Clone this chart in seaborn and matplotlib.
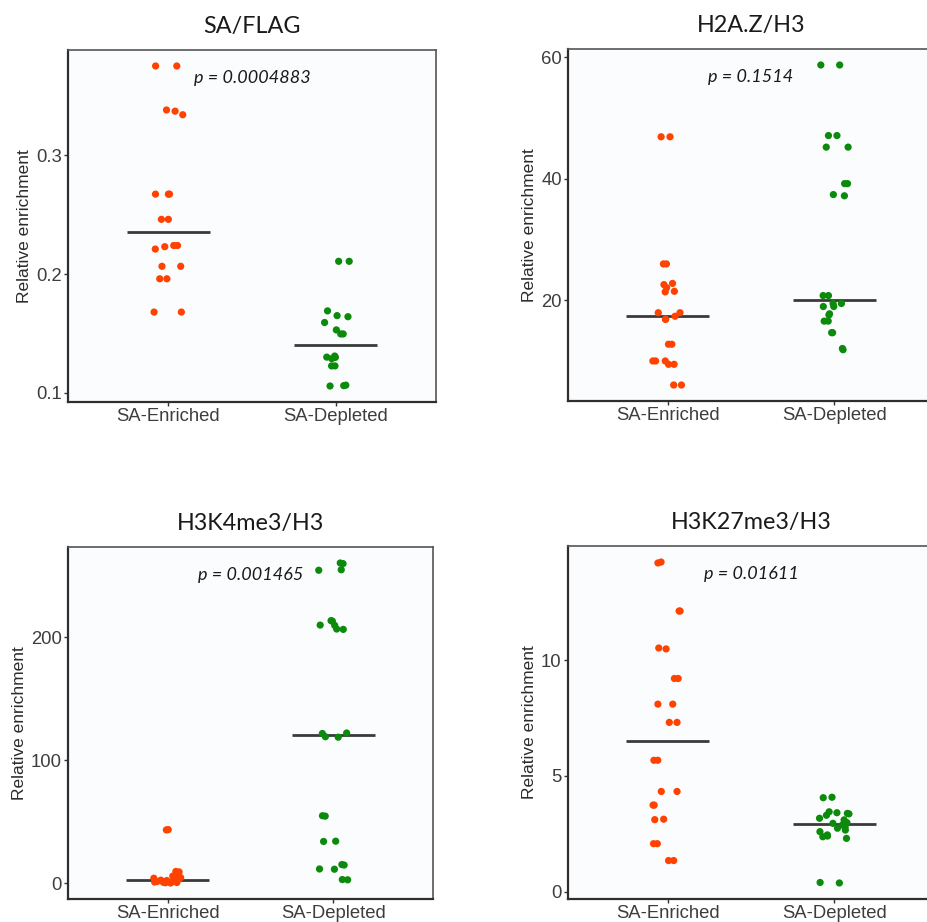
import matplotlib

matplotlib.use("Agg")
import matplotlib.pyplot as plt
import numpy as np
import pandas as pd
import seaborn as sns

# values
categories = ["SA-Enriched", "SA-Depleted"]
titles = ["SA/FLAG", "H2A.Z/H3", "H3K4me3/H3", "H3K27me3/H3"]
p_values = ["0.0004883", "0.1514", "0.001465", "0.01611"]
y_ticks = [[0.1, 0.2, 0.3], [20, 40, 60], [0, 100, 200], [0, 5, 10]]

flag_enriched = [0.375, 0.375, 0.338, 0.337, 0.334, 0.2672, 0.2672, 0.2672,
                 0.246, 0.246, 0.224, 0.224, 0.223, 0.221, 0.2065, 0.2065,
                 0.196, 0.196, 0.168, 0.168]
flag_depleted = [0.2107, 0.2107, 0.169, 0.165, 0.1641, 0.1592, 0.153, 0.1496,
                 0.1496, 0.131, 0.1301, 0.1299, 0.1288, 0.1227, 0.1227,
                 0.1065, 0.1061, 0.1058]

h2az_enriched = [46.9, 46.9, 26.0, 26.0, 22.8, 22.6, 22.1, 21.5, 21.4, 17.98,
                 17.98, 17.4, 16.9, 16.9, 12.8, 12.8, 10.05, 10.05, 10.05,
                 9.5, 9.5, 6.1, 6.1]
h2az_depleted = [58.7, 58.7, 47.1, 47.1, 45.2, 45.2, 39.2, 39.2, 37.4, 37.2,
                 20.8, 20.8, 19.5, 19.5, 19.0, 19.0, 17.8, 17.6, 16.6, 16.6,
                 14.7, 14.7, 12.1, 11.9]

h3k4_enriched = [43.6, 43.4, 9.6, 9.2, 5.8, 5.2, 4.6, 4.1, 3.6, 2.5, 2.2, 1.9,
                 1.6, 1.4, 1.2, 1.0, 0.8, 0.6, 0.4, 0.2]
h3k4_depleted = [260.5, 260.0, 255.0, 254.6, 213.6, 213.2, 210.0, 209.8,
                 206.8, 206.5, 122.2, 121.8, 119.2, 118.8, 54.9, 54.6, 34.2,
                 34.0, 15.2, 14.8, 11.6, 11.4, 3.0, 2.8]

h3k27_enriched = [14.26, 14.22, 12.14, 12.14, 10.54, 10.50, 9.22, 9.22, 8.11,
                  8.11, 7.32, 7.32, 5.68, 5.68, 4.33, 4.33, 3.74, 3.74, 3.13,
                  3.11, 2.07, 2.07, 1.34, 1.34]
h3k27_depleted = [4.08, 4.06, 3.45, 3.41, 3.38, 3.36, 3.30, 3.17, 3.10, 2.98,
                  2.95, 2.88, 2.80, 2.74, 2.66, 2.59, 2.45, 2.40, 2.37, 2.30,
                  0.39, 0.37]

panel_values = [
    (flag_enriched, flag_depleted),
    (h2az_enriched, h2az_depleted),
    (h3k4_enriched, h3k4_depleted),
    (h3k27_enriched, h3k27_depleted),
]

palette = {"SA-Enriched": "#ff4200", "SA-Depleted": "#0b8a0b"}

# axes boxes in pixels: left, right, top, bottom
W, H = 927, 922
boxes = [
    (68, 436, 50, 402),
    (568, 934, 49, 401),
    (68, 433, 547, 899),
    (568, 934, 546, 899),
]

sns.set_theme(style="ticks")
plt.rcParams["font.family"] = ["Liberation Sans", "DejaVu Sans"]
plt.rcParams["axes.edgecolor"] = "#333333"

np.random.seed(7)

fig = plt.figure(figsize=(W / 100, H / 100), dpi=100)
fig.patch.set_facecolor("white")

for i, (enriched, depleted) in enumerate(panel_values):
    left, right, top, bottom = boxes[i]
    ax = fig.add_axes([left / W, 1 - bottom / H, (right - left) / W, (bottom - top) / H])
    ax.set_facecolor("#fafcfd")

    df = pd.DataFrame({
        "group": [categories[0]] * len(enriched) + [categories[1]] * len(depleted),
        "value": enriched + depleted,
    })

    # median line only
    sns.boxplot(
        data=df, x="group", y="value", order=categories, ax=ax,
        width=0.5, showbox=False, showcaps=False, showfliers=False,
        whiskerprops={"visible": False},
        medianprops={"color": "#3a3a3a", "linewidth": 2.0},
    )
    sns.stripplot(
        data=df, x="group", y="value", order=categories, hue="group",
        palette=palette, jitter=0.09, size=5.2, linewidth=0, ax=ax,
        legend=False, zorder=3,
    )

    ax.set_xlim(-0.6, 1.6)
    ax.set_yticks(y_ticks[i])
    ax.margins(y=0.05)
    ax.set_xlabel("")
    ax.set_ylabel("Relative enrichment", fontsize=12.5, color="#2b2b2b", labelpad=3)
    ax.tick_params(axis="both", length=3, width=1, color="#333333",
                   labelsize=13.3, labelcolor="#3d3d3d", pad=1.5)

    for side in ["left", "bottom"]:
        ax.spines[side].set_linewidth(1.6)
        ax.spines[side].set_color("#2e2e2e")
    for side in ["top", "right"]:
        ax.spines[side].set_visible(True)
        ax.spines[side].set_linewidth(1.2)
        ax.spines[side].set_color("#555555")

    ax.set_title(titles[i], fontsize=16.8, family=["Lato", "DejaVu Sans"],
                 color="#1a1a1a", pad=12)
    ax.text(0.5, 0.92, f"p = {p_values[i]}", transform=ax.transAxes,
            ha="center", va="center", fontsize=13, style="italic",
            family=["Lato", "DejaVu Sans"], color="#1a1a1a")

fig.savefig("out.png", dpi=100)
